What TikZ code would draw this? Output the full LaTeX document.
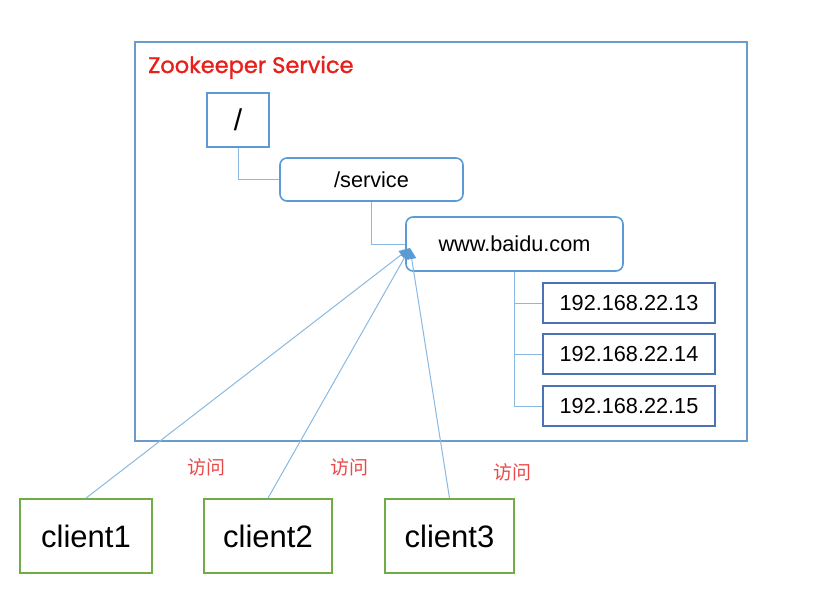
\documentclass[tikz,border=0pt]{standalone}
\usepackage{fontspec}
\setmainfont{Liberation Sans}
\newfontfamily\zkfont{Poppins}[FakeBold=1.2]
\newfontfamily\cjk{Noto Sans CJK SC}
\usetikzlibrary{arrows.meta}
\definecolor{outerc}{HTML}{6A9BCB}
\definecolor{roundc}{HTML}{5B9BD5}
\definecolor{ipc}{HTML}{4A72B4}
\definecolor{linec}{HTML}{8AB8E0}
\definecolor{clientc}{HTML}{70AD47}
\definecolor{redc}{HTML}{E8201C}
\definecolor{labc}{HTML}{E84A4A}
\tikzset{
  znode/.style={draw=roundc, line width=1.6pt, align=center, inner sep=0pt, font=\fontsize{21.7}{24}\selectfont},
  rbox/.style={znode, rounded corners=7pt},
  ipbox/.style={znode, draw=ipc, minimum width=172pt, minimum height=40pt},
  clientbox/.style={draw=clientc, line width=1.8pt, minimum height=74pt, inner sep=0pt, font=\fontsize{31}{34}\selectfont},
  conn/.style={draw=linec, line width=1pt},
  acc/.style={draw=linec, line width=1pt, -{Triangle[length=11pt,width=9pt,color=roundc]}},
  lab/.style={text=labc, font=\cjk\fontsize{19}{22}\selectfont, inner sep=0pt}
}
\begin{document}
\begin{tikzpicture}[x=1pt,y=-1pt]
\useasboundingbox (0,0) rectangle (832,608);
\draw[outerc, line width=1.8pt] (135,42) rectangle (747,441);
\node[anchor=base west, text=redc, font=\zkfont\fontsize{22.5}{25}\selectfont, inner sep=0pt] (title) at (148,73) {Zookeeper Service};
\node[znode, minimum width=62pt, minimum height=54pt, font=\fontsize{30}{34}\selectfont] (root) at (238,120) {/};
\node[rbox, minimum width=183pt, minimum height=43pt] (service) at (371.5,179.5) {/service};
\node[rbox, minimum width=217pt, minimum height=54pt] (www) at (514.5,244) {www.baidu.com};
\node[ipbox] (ip1) at (629,303) {192.168.22.13};
\node[ipbox] (ip2) at (629,354) {192.168.22.14};
\node[ipbox] (ip3) at (629,406) {192.168.22.15};
\draw[conn] (root) |- (service);
\draw[conn] (service) |- (www);
\draw[conn] (www.south) |- (ip1.west);
\draw[conn] (www.south) |- (ip2.west);
\draw[conn] (www.south) |- (ip3.west);
\node[clientbox, minimum width=132pt] (c1) at (86,536) {client1};
\node[clientbox, minimum width=128pt] (c2) at (268,536) {client2};
\node[clientbox, minimum width=129pt] (c3) at (449.5,536) {client3};
\coordinate (tip) at (410,248);
\draw[acc] (c1.north) -- (tip);
\draw[acc] (c2.north) -- (tip);
\draw[acc] (c3.north) -- (tip);
\node[lab] (l1) at (206,467) {访问};
\node[lab] (l2) at (349,467) {访问};
\node[lab] (l3) at (512,472) {访问};
\end{tikzpicture}
\end{document}
